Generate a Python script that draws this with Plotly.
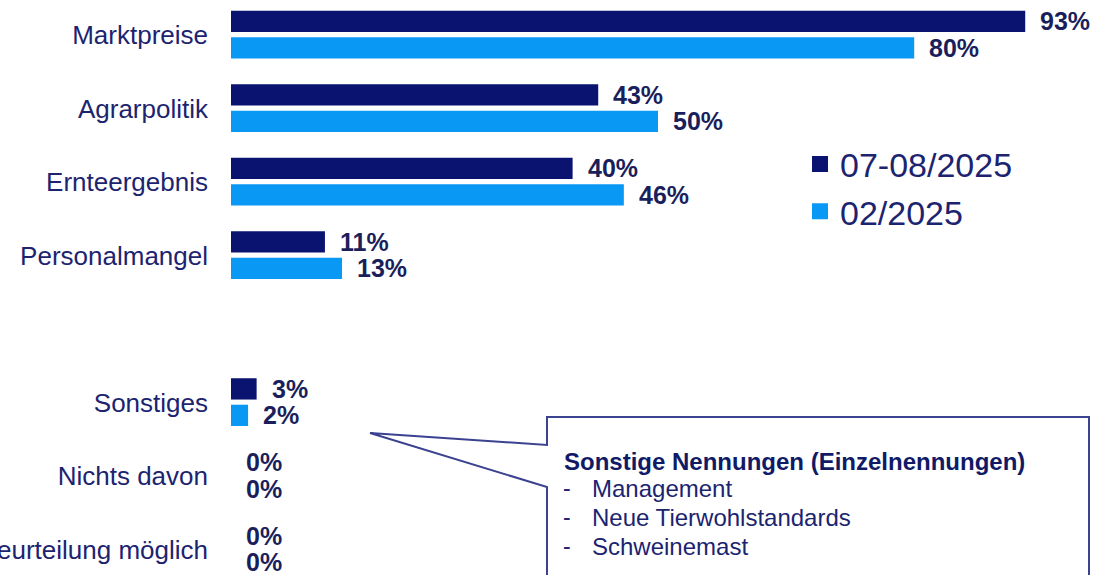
import plotly.graph_objects as go

# ---- data ----
categories = ["Marktpreise", "Agrarpolitik", "Ernteergebnis", "Personalmangel",
              "", "Sonstiges", "Nichts davon", "Keine Beurteilung möglich"]
series_names = ["07-08/2025", "02/2025"]
values_2025_07_08 = [93, 43, 40, 11, None, 3, 0, 0]
values_2025_02 = [80, 50, 46, 13, None, 2, 0, 0]
callout_title = "Sonstige Nennungen (Einzelnennungen)"
callout_items = ["Management", "Neue Tierwohlstandards", "Schweinemast"]

# ---- style ----
DARK = "#0a1470"
LIGHT = "#0a98f5"
TEXT = "#1c2470"
VAL = "#1a1f5c"
FONT = "Arial, Liberation Sans, sans-serif"
W, H = 1100, 575
ML, MR = 231, 15
PW = W - ML - MR

def px2paper(px, py):
    return (px - ML) / PW, 1 - py / H

pos = list(range(len(categories)))
fig = go.Figure()

series = [values_2025_07_08, values_2025_02]
colors = [DARK, LIGHT]
offsets = [-0.33, 0.03]
width = 0.29
for name, vals, col, off in zip(series_names, series, colors, offsets):
    ys = [p for p, v in zip(pos, vals) if v is not None]
    xs = [v for v in vals if v is not None]
    fig.add_trace(go.Bar(
        x=xs, y=ys, orientation="h", name=name,
        marker=dict(color=col, line=dict(width=0)),
        width=width, offset=off, showlegend=False, hoverinfo="x+y"))
    # legend proxy
    fig.add_trace(go.Scatter(
        x=[None], y=[None], mode="markers", name=name,
        marker=dict(symbol="square", size=16, color=col)))
    for p, v in zip(ys, xs):
        fig.add_annotation(
            x=v, y=p + off + width / 2, xref="x", yref="y",
            text=f"{v}%", showarrow=False, xanchor="left", yanchor="middle",
            xshift=13, font=dict(family=FONT, size=25, color=VAL, weight="bold"))

tick_pos = [p for p, c in zip(pos, categories) if c]
tick_txt = [c for c in categories if c]

fig.update_layout(
    width=W, height=H,
    margin=dict(l=ML, r=MR, t=0, b=0),
    paper_bgcolor="white", plot_bgcolor="white",
    barmode="overlay",
    xaxis=dict(range=[0, 100], visible=False, showgrid=False, zeroline=False),
    yaxis=dict(range=[7.347, -0.476], tickvals=tick_pos, ticktext=tick_txt,
               showgrid=False, zeroline=False, showline=False, ticks="",
               ticklabelstandoff=22, automargin=False,
               tickfont=dict(family=FONT, size=26, color=TEXT)),
    legend=dict(x=px2paper(800, 0)[0], y=px2paper(0, 188)[1],
                xanchor="left", yanchor="middle",
                font=dict(family=FONT, size=34, color=TEXT),
                bgcolor="rgba(0,0,0,0)", itemsizing="trace",
                tracegroupgap=0),
    showlegend=True,
)

# callout box with pointer
L, R, T, B = 547, 1089, 417, 600
tip = (370, 433)
a1, a2 = 445, 487
pts = [(L, B), (L, a2), tip, (L, a1), (L, T), (R, T), (R, B)]
path = ""
for i, (x, y) in enumerate(pts):
    px, py = px2paper(x, y)
    path += ("M" if i == 0 else " L") + f"{px:.5f},{py:.5f}"
fig.add_shape(type="path", path=path, xref="paper", yref="paper",
              line=dict(color="#3b4290", width=2), fillcolor="rgba(0,0,0,0)")

tx, ty = px2paper(562, 461)
fig.add_annotation(x=tx, y=ty, xref="paper", yref="paper", text=callout_title,
                   showarrow=False, xanchor="left", yanchor="middle",
                   font=dict(family=FONT, size=24, color="#101a66", weight="bold"))
for k, item in enumerate(callout_items):
    yy = 488 + 29 * k
    dx, dy = px2paper(561, yy)
    fig.add_annotation(x=dx, y=dy, xref="paper", yref="paper", text="-",
                       showarrow=False, xanchor="left", yanchor="middle",
                       font=dict(family=FONT, size=23, color=TEXT))
    ix, iy = px2paper(590, yy)
    fig.add_annotation(x=ix, y=iy, xref="paper", yref="paper", text=item,
                       showarrow=False, xanchor="left", yanchor="middle",
                       font=dict(family=FONT, size=24, color=TEXT))

fig.write_html("out.html", config={"displayModeBar": False},
               post_script="document.body.style.margin='0';")
